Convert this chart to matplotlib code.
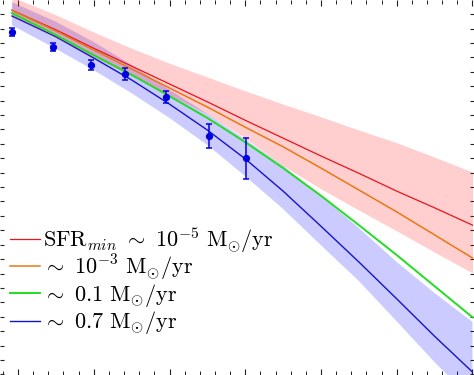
import matplotlib
matplotlib.use("Agg")
import matplotlib.pyplot as plt
from matplotlib.legend import Legend
import numpy as np

plt.rcParams['mathtext.fontset'] = 'cm'
plt.rcParams['font.family'] = ['DejaVu Serif']

# model curves sampled in x
x_model = [7.92, 8.5, 9.0, 9.5, 10.0, 10.5, 11.0, 11.5, 12.0, 12.5, 13.0, 13.5, 14.0]
y_red = [-0.93, -1.27, -1.59, -1.90, -2.21, -2.52, -2.84, -3.15, -3.46, -3.76, -4.07, -4.36, -4.66]
y_orange = [-0.93, -1.29, -1.62, -1.95, -2.28, -2.61, -2.96, -3.30, -3.67, -4.05, -4.43, -4.83, -5.23]
y_green = [-0.98, -1.36, -1.71, -2.05, -2.42, -2.80, -3.22, -3.67, -4.15, -4.66, -5.18, -5.72, -6.26]
y_blue = [-1.03, -1.39, -1.76, -2.14, -2.56, -3.01, -3.51, -4.07, -4.68, -5.30, -5.94, -6.59, -7.21]

# uncertainty bands
red_band_hi = [-0.70, -1.01, -1.31, -1.59, -1.85, -2.09, -2.33, -2.56, -2.78, -3.01, -3.23, -3.48, -3.74]
red_band_lo = [-1.03, -1.39, -1.74, -2.07, -2.40, -2.73, -3.15, -3.63, -4.03, -4.40, -4.76, -5.13, -5.49]
blue_band_hi = [-0.79, -1.13, -1.48, -1.88, -2.31, -2.73, -3.17, -3.63, -4.15, -4.71, -5.30, -5.84, -6.34]
blue_band_lo = [-1.19, -1.60, -1.97, -2.37, -2.80, -3.27, -3.81, -4.38, -5.01, -5.63, -6.33, -7.04, -7.70]

# observed points
x_obs = [7.92, 8.46, 8.96, 9.41, 9.96, 10.52, 11.01]
y_obs = [-1.30, -1.56, -1.88, -2.04, -2.44, -3.11, -3.50]
e_obs = [0.07, 0.07, 0.087, 0.104, 0.108, 0.203, 0.352]

labels = [r'$\mathrm{SFR}_{min}\ \sim\ 10^{-5}\ \mathrm{M}_{\odot}/\mathrm{yr}$',
          r'$\sim\ 10^{-3}\ \mathrm{M}_{\odot}/\mathrm{yr}$',
          r'$\sim\ 0.1\ \mathrm{M}_{\odot}/\mathrm{yr}$',
          r'$\sim\ 0.7\ \mathrm{M}_{\odot}/\mathrm{yr}$']

c_red = '#e8141c'
c_orange = '#e87814'
c_green = '#22dd22'
c_blue = '#1414cc'

fig = plt.figure(figsize=(4.74, 3.75), dpi=100)
ax = fig.add_axes([0, 0, 1, 1])

ax.fill_between(x_model, blue_band_lo, blue_band_hi, color='#3333ff', alpha=0.25, lw=0, zorder=1)
lb, = ax.plot(x_model, y_blue, color=c_blue, lw=1.0, zorder=2)
ax.fill_between(x_model, red_band_lo, red_band_hi, color='#ff2222', alpha=0.22, lw=0, zorder=3)
lr, = ax.plot(x_model, y_red, color=c_red, lw=0.9, zorder=4)
lo, = ax.plot(x_model, y_orange, color=c_orange, lw=1.1, zorder=4)
lg, = ax.plot(x_model, y_green, color=c_green, lw=1.4, zorder=4)

ax.errorbar(x_obs, y_obs, yerr=e_obs, fmt='o', color='#0000e0', ms=4.2,
            capsize=2.5, elinewidth=1.1, capthick=1.1, zorder=6)

ax.set_xlim(7.762, 14.02)
ax.set_ylim(-7.262, -0.752)
ax.set_xticks(np.arange(8, 14.01, 1))
ax.set_xticks(np.arange(7.8, 14.01, 0.2), minor=True)
ax.set_yticks(np.arange(-7.25, -0.99, 0.25))
ax.tick_params(axis='both', which='both', direction='in', top=True, right=True,
               labelbottom=False, labelleft=False, color='#222222')
ax.tick_params(axis='x', which='major', length=4.3, width=0.8)
ax.tick_params(axis='x', which='minor', length=2.6, width=0.7)
ax.tick_params(axis='y', which='major', length=3.0, width=0.8)
for s in ax.spines.values():
    s.set_visible(False)

# one legend row per entry, with even row spacing
handles = [lr, lo, lg, lb]
row_y = [0.360, 0.286, 0.2115, 0.139]
for h, lab, yy in zip(handles, labels, row_y):
    leg = Legend(ax, [h], [lab], loc='center left', bbox_to_anchor=(0.022, yy),
                 frameon=False, fontsize=16, handlelength=1.35,
                 handletextpad=0.1, borderpad=0, borderaxespad=0)
    ax.add_artist(leg)

fig.savefig('out.png', dpi=100)
